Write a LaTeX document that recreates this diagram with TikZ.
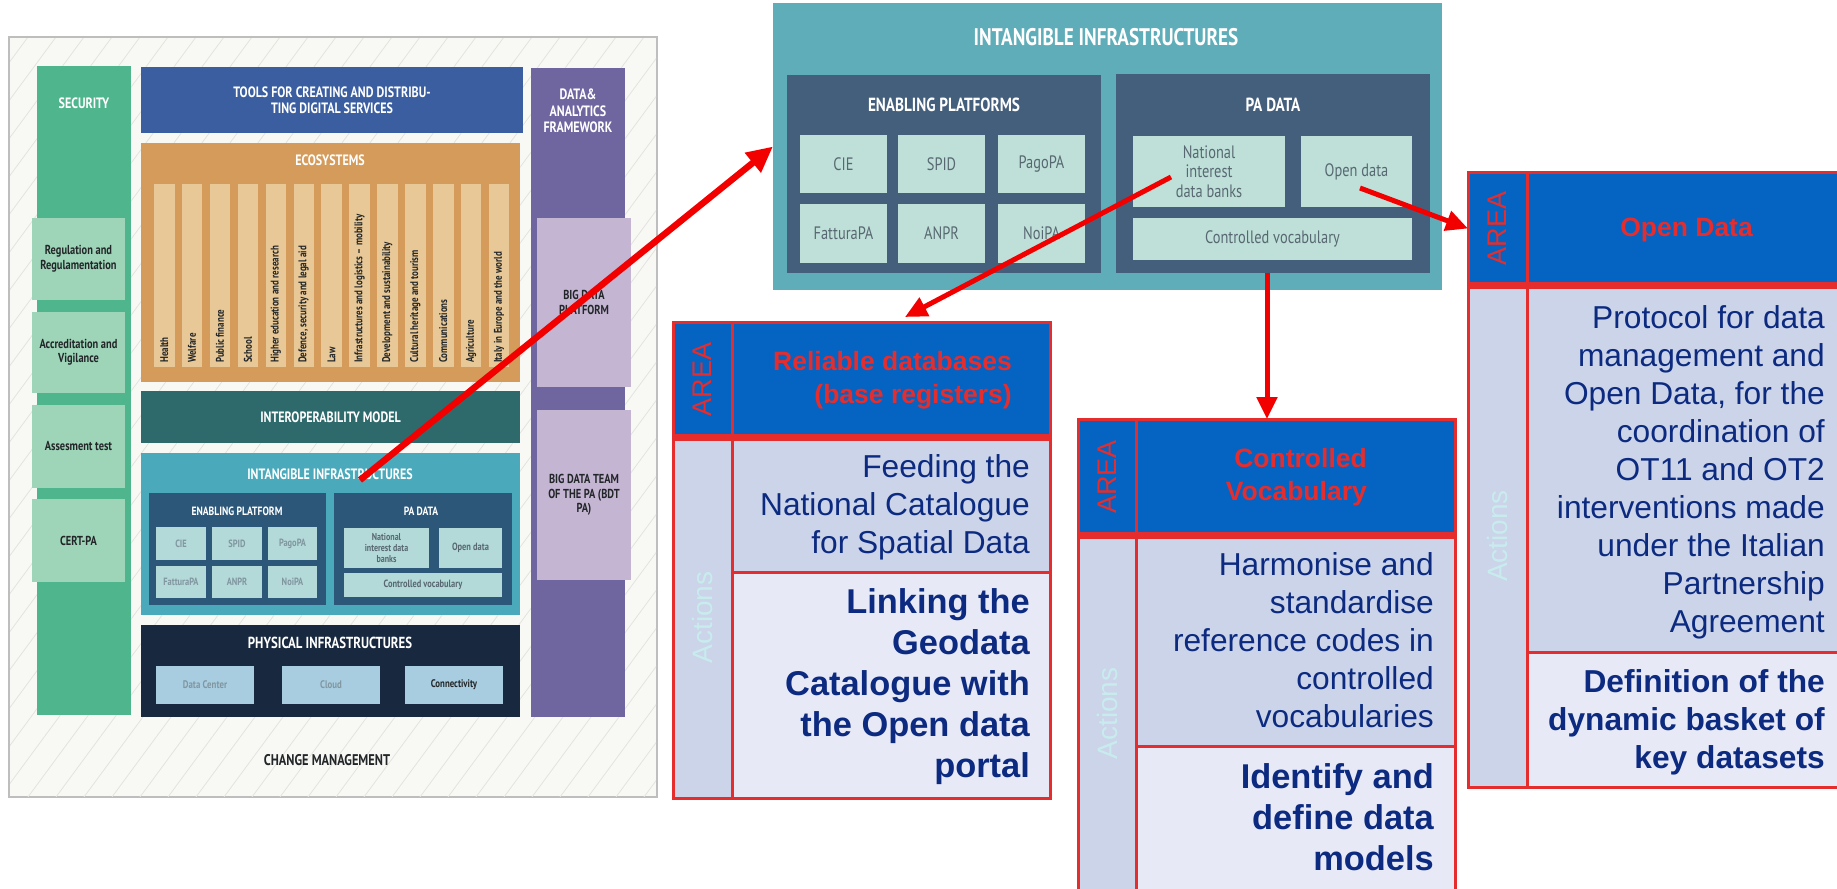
\documentclass[tikz,border=0pt]{standalone}
\usepackage{fontspec}
\setmainfont{Liberation Sans}
\newfontfamily\archfont[FakeStretch=0.8]{PT Sans}
\usetikzlibrary{arrows.meta, positioning}

% table colours
\definecolor{tabred}{RGB}{229,45,45}
\definecolor{headblue}{RGB}{5,99,193}
\definecolor{actgray}{RGB}{203,212,232}
\definecolor{actlight}{RGB}{231,234,246}
\definecolor{actfaint}{RGB}{200,236,238}
\definecolor{navytext}{RGB}{12,42,128}
\definecolor{arrowred}{RGB}{242,0,0}
% architecture colours
\definecolor{framebg}{RGB}{248,248,245}
\definecolor{framegray}{RGB}{190,190,190}
\definecolor{hatchgray}{RGB}{228,228,222}
\definecolor{darktext}{RGB}{34,38,40}
\definecolor{secgreen}{RGB}{78,181,140}
\definecolor{secbox}{RGB}{158,212,184}
\definecolor{toolblue}{RGB}{59,94,160}
\definecolor{ecoorange}{RGB}{212,155,91}
\definecolor{ecostrip}{RGB}{232,200,150}
\definecolor{interteal}{RGB}{46,106,108}
\definecolor{intanteal}{RGB}{74,169,186}
\definecolor{intandark}{RGB}{45,87,120}
\definecolor{intanbox}{RGB}{179,217,216}
\definecolor{physnavy}{RGB}{23,40,63}
\definecolor{physbox}{RGB}{169,205,224}
\definecolor{datapurple}{RGB}{111,102,160}
\definecolor{databox}{RGB}{196,181,211}
\definecolor{bigteal}{RGB}{94,173,184}
\definecolor{bigdark}{RGB}{68,95,124}
\definecolor{bigbox}{RGB}{190,224,216}
\definecolor{boxtext}{RGB}{88,104,114}
\definecolor{palebox}{RGB}{128,150,160}

\begin{document}
\begin{tikzpicture}[x=1pt, y=-1pt,
    % blocks are placed by their top left corner
    blk/.style={anchor=north west, inner sep=0pt, outer sep=0pt},
    sz/.style 2 args={minimum width=#1, minimum height=#2},
    afont/.style 2 args={font=\archfont\bfseries\fontsize{#1}{#2}\selectfont},
    wtitle/.style={afont={15}{16.5}, text=white, align=center, inner sep=0pt},
    dtitle/.style={afont={13}{14.5}, text=darktext, align=center},
    secsub/.style={blk, fill=secbox, sz={93}{#1}, dtitle},
    purplesub/.style={blk, fill=databox, sz={94}{#1}, dtitle},
    ecostripbox/.style={blk, fill=ecostrip, sz={20.5}{183}},
    ecolabel/.style={afont={11.2}{12}, text=darktext, rotate=90, anchor=west, inner sep=0pt},
    smallbox/.style 2 args={blk, fill=intanbox, sz={#1}{#2}, afont={10.5}{11.5}, text=palebox, align=center},
    physsub/.style={blk, fill=physbox, sz={98}{38}, afont={11}{12}, text=palebox},
    bigsub/.style 2 args={blk, fill=bigbox, sz={#1}{#2}, font=\archfont\fontsize{18}{19.5}\selectfont, text=boxtext, align=center},
    hatchline/.style={draw=hatchgray, line width=0.8pt},
    % table cells
    cell/.style={blk, draw=tabred, line width=3pt},
    areacell/.style={cell, fill=headblue},
    actcell/.style={cell, fill=actgray},
    acttwocell/.style={cell, fill=actlight},
    areatxt/.style={font=\fontsize{27}{30}\selectfont, text=tabred, rotate=90, inner sep=0pt},
    actionstxt/.style={font=\fontsize{28}{30}\selectfont, text=actfaint, rotate=90, inner sep=0pt},
    headtxt/.style={font=\bfseries\fontsize{26.5}{33}\selectfont, text=tabred, align=right, anchor=east, inner sep=0pt},
    bodytxt/.style={font=\fontsize{31.7}{38}\selectfont, text=navytext, align=right, anchor=north east, inner sep=0pt},
    boldtxt/.style={font=\bfseries\fontsize{34.4}{41}\selectfont, text=navytext, align=right, anchor=north east, inner sep=0pt},
    sepline/.style={draw=tabred, line width=7pt},
    redarrow/.style={draw=arrowred, line width=5pt, -{Triangle[length=22pt, width=20pt]}},
    bigarrow/.style={redarrow, line width=6.5pt, -{Triangle[length=26pt, width=24pt]}},
  ]
  \useasboundingbox (0,0) rectangle (1837,889);

  % --- architecture map on the left ---
  \node[blk, sz={648}{760}, fill=framebg, draw=framegray, line width=2pt] (frame) at (9,37) {};
  \begin{scope}
    \clip (10,38) rectangle (656,796);
    \foreach \k in {-560,-532,...,660}
      \draw[hatchline] (\k,797) -- (\k+560,37);
  \end{scope}

  \node[blk, sz={94}{649}, fill=secgreen] (security) at (37,66) {};
  \node[wtitle] (sectitle) at (84,103) {SECURITY};
  \node[secsub=82] (regbox) at (32,218) {Regulation and\\Regulamentation};
  \node[secsub=81] (accbox) at (32,312) {Accreditation and\\Vigilance};
  \node[secsub=83] (assbox) at (32,405) {Assesment test};
  \node[secsub=83] (certbox) at (32,499) {CERT-PA};

  \node[blk, sz={382}{66}, fill=toolblue, wtitle] (tools) at (141,67)
    {TOOLS FOR CREATING AND DISTRIBU-\\TING DIGITAL SERVICES};

  \node[blk, sz={94}{649}, fill=datapurple] (datafw) at (531,68) {};
  \node[wtitle] (datatitle) at (578,111) {DATA\&\\ANALYTICS\\FRAMEWORK};
  \node[purplesub=169] (bdplat) at (537,218) {BIG DATA\\PLATFORM};
  \node[purplesub=170] (bdteam) at (537,410) {BIG DATA TEAM\\OF THE PA (BDT\\PA)};

  \node[blk, sz={379}{239}, fill=ecoorange] (eco) at (141,143) {};
  \node[wtitle] (ecotitle) at (330,160) {ECOSYSTEMS};
  \foreach \lbl [count=\i from 0] in {Health, Welfare, Public finance, School,
      Higher education and research, {Defence, security and legal aid}, Law,
      Infrastructures and logistics – mobility, Development and sustainability,
      Cultural heritage and tourism, Communications, Agriculture,
      Italy in Europe and the world} {
    \node[ecostripbox] (strip\i) at (154+27.9*\i,184) {};
    \node[ecolabel] (striptxt\i) at (164.2+27.9*\i,363) {\lbl};
  }

  \node[blk, sz={379}{52}, fill=interteal, wtitle] (interop) at (141,391) {INTEROPERABILITY MODEL};

  \node[blk, sz={379}{162}, fill=intanteal] (smallii) at (141,453) {};
  \node[wtitle] (smalliititle) at (330,474) {INTANGIBLE INFRASTRUCTURES};
  \node[blk, sz={177}{112}, fill=intandark] (smallep) at (149,493) {};
  \node[wtitle, afont={12}{13}] (smalleptitle) at (237,511) {ENABLING PLATFORM};
  \node[smallbox={50}{33}] (scie) at (156,527) {CIE};
  \node[smallbox={50}{33}] (sspid) at (212,527) {SPID};
  \node[smallbox={49}{33}] (spago) at (268,527) {PagoPA};
  \node[smallbox={50}{32}] (sfatt) at (156,566) {FatturaPA};
  \node[smallbox={50}{32}] (sanpr) at (212,566) {ANPR};
  \node[smallbox={49}{32}] (snoi) at (268,566) {NoiPA};
  \node[blk, sz={178}{112}, fill=intandark] (smallpa) at (334,493) {};
  \node[wtitle, afont={12}{13}] (smallpatitle) at (421,511) {PA DATA};
  \node[smallbox={85}{40}, afont={10}{11}, text=boxtext] (snat) at (344,528) {National\\interest data\\banks};
  \node[smallbox={63}{40}, text=boxtext] (sopen) at (439,528) {Open data};
  \node[smallbox={158}{24}, text=boxtext] (scv) at (344,573) {Controlled vocabulary};

  \node[blk, sz={379}{92}, fill=physnavy] (physical) at (141,625) {};
  \node[wtitle, afont={16}{17}] (phystitle) at (330,643) {PHYSICAL INFRASTRUCTURES};
  \node[physsub] (datacenter) at (156,666) {Data Center};
  \node[physsub] (cloud) at (282,666) {Cloud};
  \node[physsub, text=darktext] (connect) at (405,666) {Connectivity};

  \node[afont={15.5}{17}, text=darktext] (changemgmt) at (327,760) {CHANGE MANAGEMENT};

  % --- enlarged intangible infrastructures ---
  \node[blk, sz={669}{287}, fill=bigteal] (bigii) at (773,3) {};
  \node[wtitle, afont={24}{28}] (bigiititle) at (1106,37) {INTANGIBLE INFRASTRUCTURES};
  \node[blk, sz={314}{198}, fill=bigdark] (bigep) at (787,75) {};
  \node[wtitle, afont={19}{22}] (bigeptitle) at (944,105) {ENABLING PLATFORMS};
  \node[bigsub={87}{58}] (bcie) at (800,135) {CIE};
  \node[bigsub={87}{58}] (bspid) at (898,135) {SPID};
  \node[bigsub={87}{58}] (bpago) at (998,135) {PagoPA};
  \node[bigsub={87}{59}] (bfatt) at (800,204) {FatturaPA};
  \node[bigsub={87}{59}] (banpr) at (898,204) {ANPR};
  \node[bigsub={87}{59}] (bnoi) at (998,204) {NoiPA};
  \node[blk, sz={314}{199}, fill=bigdark] (bpad) at (1116,74) {};
  \node[wtitle, afont={19}{22}] (bpadtitle) at (1273,105) {PA DATA};
  \node[bigsub={152}{71}] (bnat) at (1133,136) {National\\interest\\data banks};
  \node[bigsub={111}{71}] (bopen) at (1301,136) {Open data};
  \node[bigsub={279}{42}] (bcv) at (1133,218) {Controlled vocabulary};

  % --- Reliable databases ---
  \node[areacell, sz={59}{115}] (relarea) at (673,322) {};
  \node[areacell, sz={318}{115}] (reltitle) at (732,322) {};
  \node[actcell, sz={59}{361}] (relact) at (673,437) {};
  \node[actcell, sz={318}{135}] (relone) at (732,437) {};
  \node[acttwocell, sz={318}{226}] (reltwo) at (732,572) {};
  \draw[sepline] (relarea.south west) -- (reltitle.south east);
  \node[areatxt] (relareatxt) at (relarea.center) {AREA};
  \node[actionstxt] (relacttxt) at (relact.center) {Actions};
  \node[headtxt] (relhead) at (1012,380) {Reliable databases\\(base registers)};
  \node[bodytxt] (relbody) at (1030,454) {Feeding the\\National Catalogue\\for Spatial Data};
  \node[boldtxt] (relbold) at (1030,588) {Linking the\\Geodata\\Catalogue with\\the Open data\\portal};

  % --- Controlled vocabulary ---
  \node[areacell, sz={58}{116}] (cvarea) at (1078,419) {};
  \node[areacell, sz={319}{116}] (cvtitle) at (1136,419) {};
  \node[actcell, sz={58}{357}] (cvact) at (1078,535) {};
  \node[actcell, sz={319}{211}] (cvone) at (1136,535) {};
  \node[acttwocell, sz={319}{146}] (cvtwo) at (1136,746) {};
  \draw[sepline] (cvarea.south west) -- (cvtitle.south east);
  \node[areatxt] (cvareatxt) at (cvarea.center) {AREA};
  \node[actionstxt] (cvacttxt) at (cvact.center) {Actions};
  \node[headtxt] (cvhead) at (1367,477) {Controlled\\Vocabulary};
  \node[bodytxt] (cvbody) at (1434,552) {Harmonise and\\standardise\\reference codes in\\controlled\\vocabularies};
  \node[boldtxt] (cvbold) at (1434,763) {Identify and\\define data\\models};

  % --- Open Data ---
  \node[areacell, sz={59}{113}] (odarea) at (1468,172) {};
  \node[areacell, sz={313}{113}] (odtitle) at (1527,172) {};
  \node[actcell, sz={59}{502}] (odact) at (1468,285) {};
  \node[actcell, sz={313}{367}] (odone) at (1527,285) {};
  \node[acttwocell, sz={313}{135}] (odtwo) at (1527,652) {};
  \draw[sepline] (odarea.south west) -- (odtitle.south east);
  \node[areatxt] (odareatxt) at (odarea.center) {AREA};
  \node[actionstxt] (odacttxt) at (odact.center) {Actions};
  \node[headtxt] (odhead) at (1753,230) {Open Data};
  \node[bodytxt] (odbody) at (1825,305) {Protocol for data\\management and\\Open Data, for the\\coordination of\\OT11 and OT2\\interventions made\\under the Italian\\Partnership\\Agreement};
  \node[boldtxt, font=\bfseries\fontsize{31.7}{38}\selectfont] (odbold) at (1825,669) {Definition of the\\dynamic basket of\\key datasets};

  % --- red arrows ---
  \coordinate (iistart) at (360,480);
  \coordinate (natstart) at (1171,177);
  \coordinate (odstart) at (1360,188);
  \path ([xshift=-6pt]bpad.south) coordinate (pastart);
  \draw[bigarrow] (iistart) -- (bigii.west);
  \draw[redarrow] (natstart) -- ([xshift=14pt, yshift=5pt]reltitle.north);
  \draw[redarrow] (odstart) -- (odarea.west);
  \draw[redarrow] (pastart) -- (pastart |- cvtitle.north);
\end{tikzpicture}
\end{document}
